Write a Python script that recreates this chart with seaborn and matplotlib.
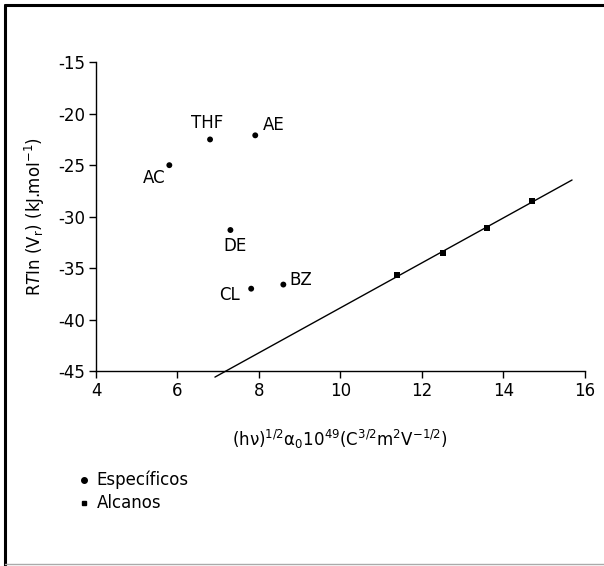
import matplotlib
matplotlib.use("Agg")
import matplotlib.pyplot as plt
from matplotlib.lines import Line2D
import numpy as np
import pandas as pd
import seaborn as sns

# --- data ---
spec_names = ['AC', 'THF', 'AE', 'DE', 'CL', 'BZ']
spec_x = [5.80, 6.80, 7.91, 7.30, 7.81, 8.60]
spec_y = [-25.0, -22.5, -22.1, -31.3, -37.0, -36.6]

alk_x = [11.40, 12.51, 13.60, 14.70]
alk_y = [-35.7, -33.5, -31.1, -28.5]

line_xrange = [6.92, 15.69]   # extent of the fitted line

# label placement (offset in pixels, alignment) per specific point
label_pos = {
    'AC':  (-4, -13, 'right', 'center'),
    'THF': (-3, 16, 'center', 'center'),
    'AE':  (8, 10, 'left', 'center'),
    'DE':  (5, -16, 'center', 'center'),
    'CL':  (-11, -6, 'right', 'center'),
    'BZ':  (6, 5, 'left', 'center'),
}

sns.set_theme(style='white')
plt.rcParams['font.family'] = ['DejaVu Sans']
plt.rcParams['mathtext.fontset'] = 'dejavusans'
plt.rcParams['axes.unicode_minus'] = False
plt.rcParams['text.color'] = 'black'
plt.rcParams['axes.labelcolor'] = 'black'
plt.rcParams['xtick.color'] = 'black'
plt.rcParams['ytick.color'] = 'black'
fs = 12

df = pd.DataFrame({
    'x': spec_x + alk_x,
    'y': spec_y + alk_y,
    'grupo': ['Específicos'] * len(spec_x) + ['Alcanos'] * len(alk_x),
})

fig = plt.figure(figsize=(6.04, 5.66), dpi=100)
ax = fig.add_axes([0.159, 0.3445, 0.809, 0.5455])

sns.scatterplot(data=df, x='x', y='y', style='grupo',
                markers={'Específicos': 'o', 'Alcanos': 's'},
                color='black', s=18, edgecolor='black', linewidth=0,
                legend=False, ax=ax, zorder=3)

# linear fit through alkanes
slope, icpt = np.polyfit(alk_x, alk_y, 1)
lx = np.array(line_xrange)
ax.plot(lx, slope * lx + icpt, color='black', lw=1, clip_on=False)

for name, x, y in zip(spec_names, spec_x, spec_y):
    dx, dy, ha, va = label_pos[name]
    ax.annotate(name, (x, y), xytext=(dx, dy), textcoords='offset pixels',
                ha=ha, va=va, fontsize=fs)

ax.set_xlim(4, 16)
ax.set_ylim(-45, -15)
ax.set_xticks(np.arange(4, 17, 2))
ax.set_yticks(np.arange(-45, -14, 5))
ax.tick_params(axis='both', labelsize=fs, length=5, width=1, color='black',
               direction='out', left=True, bottom=True, pad=3)
for side in ['top', 'right']:
    ax.spines[side].set_visible(False)
for side in ['left', 'bottom']:
    ax.spines[side].set_color('black')
    ax.spines[side].set_linewidth(1)

ax.set_xlabel('(hν)$^{1/2}$α$_0$10$^{49}$(C$^{3/2}$m$^2$V$^{-1/2}$)',
              fontsize=fs, labelpad=20)
ax.set_ylabel(r'R$\it{T}$In (V$_\mathrm{r}$) (kJ.moI$^{-1}$)', fontsize=fs,
              labelpad=8)

handles = [Line2D([], [], marker='o', ls='none', color='black', markersize=4),
           Line2D([], [], marker='s', ls='none', color='black', markersize=3.5)]
fig.legend(handles, ['Específicos', 'Alcanos'], loc='upper left',
           bbox_to_anchor=(0.13, 0.168), frameon=False, fontsize=fs,
           handlelength=0.6, handletextpad=0.5, labelspacing=0.3,
           borderpad=0, borderaxespad=0)

# outer frame of the original image
fig.add_artist(Line2D([0.008, 0.008], [0, 0.992], transform=fig.transFigure,
                      color='black', lw=2.2))
fig.add_artist(Line2D([0.008, 1.0], [0.992, 0.992], transform=fig.transFigure,
                      color='black', lw=2.2))
fig.add_artist(Line2D([0.008, 1.0], [0.003, 0.003], transform=fig.transFigure,
                      color='#aaaaaa', lw=1))

fig.savefig('out.png', dpi=100)
